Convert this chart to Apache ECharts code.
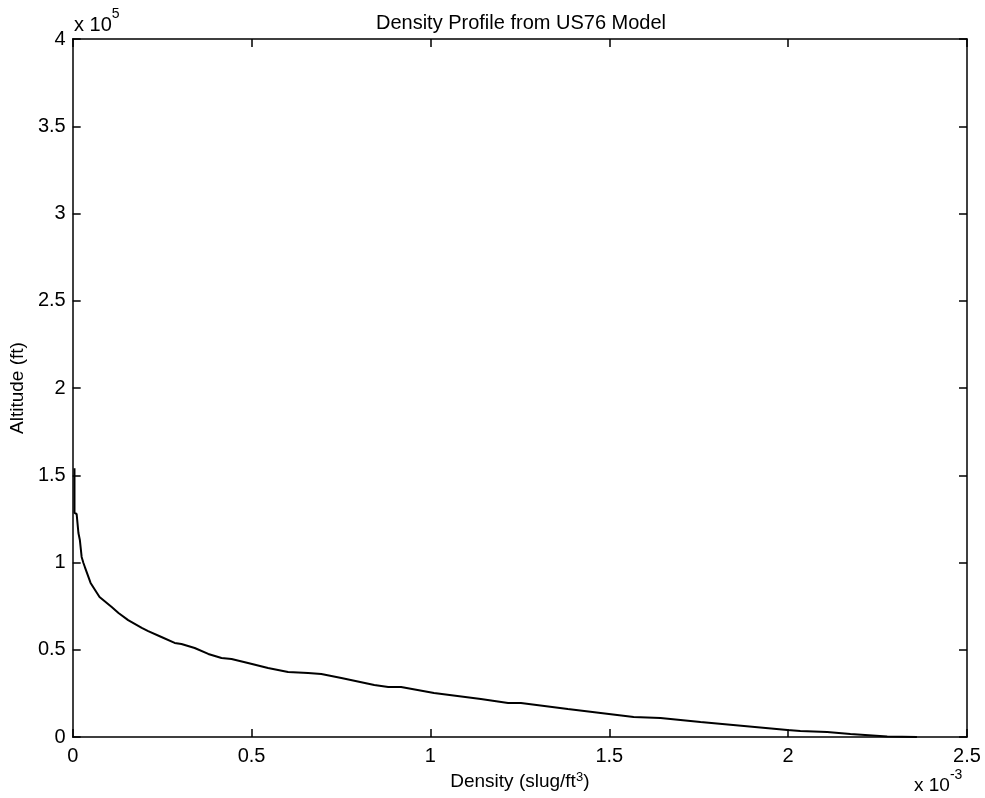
<!DOCTYPE html>
<html>
<head>
<meta charset="utf-8">
<script src="https://cdn.jsdelivr.net/npm/echarts@6/dist/echarts.min.js"></script>
<style>
  html, body { margin: 0; padding: 0; background: #fff; }
  #chart { width: 985px; height: 798px; }
</style>
</head>
<body>
<div id="chart"></div>
<script>
// US76 standard atmosphere: density (slug/ft^3) against altitude (ft)
const density = [
  0.005e-3, 0.005e-3, 0.011e-3, 0.016e-3, 0.020e-3, 0.025e-3, 0.030e-3, 0.034e-3,
  0.050e-3, 0.075e-3, 0.109e-3, 0.128e-3, 0.155e-3, 0.193e-3, 0.211e-3, 0.248e-3,
  0.285e-3, 0.304e-3, 0.341e-3, 0.379e-3, 0.416e-3, 0.444e-3, 0.490e-3, 0.546e-3,
  0.602e-3, 0.658e-3, 0.695e-3, 0.751e-3, 0.843e-3, 0.882e-3, 0.918e-3, 1.010e-3,
  1.141e-3, 1.217e-3, 1.253e-3, 1.384e-3, 1.476e-3, 1.568e-3, 1.643e-3, 1.755e-3,
  1.998e-3, 2.034e-3, 2.109e-3, 2.174e-3, 2.277e-3, 2.360e-3
];
const altitude = [
  154000, 128400, 127800, 116900, 112900, 103200, 99700, 97400,
  88300, 80200, 74500, 71100, 67000, 62500, 60700, 57300,
  53900, 53300, 51000, 47600, 45300, 44700, 42400, 39500,
  37200, 36700, 36100, 33800, 29800, 28700, 28700, 25200,
  21800, 19500, 19500, 16000, 13800, 11500, 10900, 8600,
  4000, 3400, 2900, 1700, 300, 0
];
const xTicks = { min: 0, max: 2.5e-3, step: 0.5e-3 };
const yTicks = { min: 0, max: 400000, step: 50000 };

const FONT = 'Liberation Sans, Arial, Helvetica, sans-serif';
const black = '#000';

const chart = echarts.init(document.getElementById('chart'), null, { renderer: 'canvas' });

const fmtX = v => String(Math.round(v * 1e4) / 10);
const fmtY = v => String(Math.round(v / 1e4) / 10);

const baseAxis = {
  axisLine: { show: true, onZero: false, lineStyle: { color: black, width: 1.5 } },
  axisTick: { show: true, inside: true, length: 8, lineStyle: { color: black, width: 1.5 } },
  splitLine: { show: false }
};

const option = {
  backgroundColor: '#fff',
  animation: false,
  title: {
    text: 'Density Profile from US76 Model',
    left: 516, top: 8, textAlign: 'center',
    textStyle: { fontFamily: FONT, fontSize: 20, fontWeight: 'normal', color: black }
  },
  grid: { left: 71, right: 18, top: 39, bottom: 61 },
  xAxis: [
    Object.assign({}, baseAxis, {
      type: 'value', position: 'bottom',
      min: xTicks.min, max: xTicks.max, interval: xTicks.step,
      axisLabel: { formatter: fmtX, margin: 9, color: black, fontFamily: FONT, fontSize: 20 },
      name: '{t|Density (slug/ft}{s|3}{t|)}',
      nameLocation: 'middle', nameGap: 34,
      nameTextStyle: {
        rich: {
          t: { fontFamily: FONT, fontSize: 19, color: black },
          s: { fontFamily: FONT, fontSize: 13, color: black, verticalAlign: 'top', padding: [0, 0, 8, 0] }
        }
      }
    }),
    Object.assign({}, baseAxis, {
      type: 'value', position: 'top',
      min: xTicks.min, max: xTicks.max, interval: xTicks.step,
      axisLabel: { show: false }
    })
  ],
  yAxis: [
    Object.assign({}, baseAxis, {
      type: 'value', position: 'left',
      min: yTicks.min, max: yTicks.max, interval: yTicks.step,
      axisLabel: { formatter: fmtY, margin: 7, color: black, fontFamily: FONT, fontSize: 20 },
      name: 'Altitude (ft)',
      nameLocation: 'middle', nameGap: 45, nameRotate: 90,
      nameTextStyle: { fontFamily: FONT, fontSize: 19, color: black }
    }),
    Object.assign({}, baseAxis, {
      type: 'value', position: 'right',
      min: yTicks.min, max: yTicks.max, interval: yTicks.step,
      axisLabel: { show: false }
    })
  ],
  graphic: [
    {
      type: 'text', left: 74, top: 7,
      style: {
        text: '{t|x 10}{s|5}',
        rich: {
          t: { fontFamily: FONT, fontSize: 20, fill: black, padding: [8, 0, 0, 0] },
          s: { fontFamily: FONT, fontSize: 14, fill: black, verticalAlign: 'top' }
        }
      }
    },
    {
      type: 'text', left: 914, top: 768,
      style: {
        text: '{t|x 10}{s|-3}',
        rich: {
          t: { fontFamily: FONT, fontSize: 19, fill: black, padding: [8, 0, 0, 0] },
          s: { fontFamily: FONT, fontSize: 14, fill: black, verticalAlign: 'top' }
        }
      }
    }
  ],
  series: [{
    type: 'line',
    xAxisIndex: 0, yAxisIndex: 0,
    showSymbol: false,
    smooth: false,
    lineStyle: { color: black, width: 2 },
    data: density.map((d, i) => [d, altitude[i]])
  }]
};

chart.setOption(option);
</script>
</body>
</html>
